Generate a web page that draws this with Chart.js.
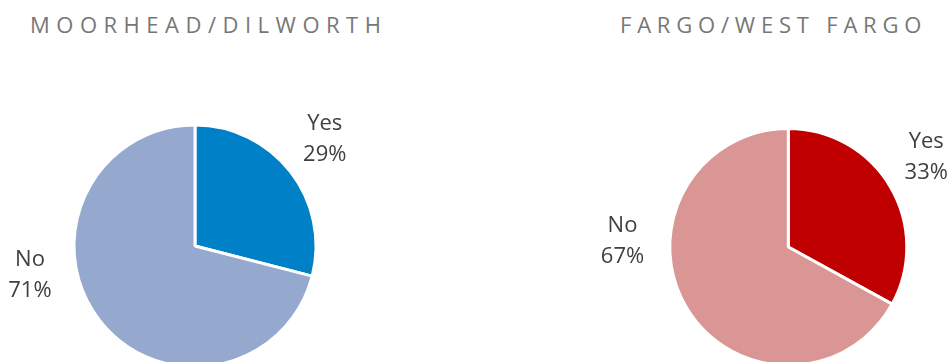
<!DOCTYPE html>
<html>
<head>
<meta charset="utf-8">
<script src="https://cdn.jsdelivr.net/npm/chart.js@4"></script>
<style>
  html, body { margin: 0; padding: 0; background: #fff; }
  body { width: 950px; height: 362px; position: relative; overflow: hidden; }
  .title {
    position: absolute;
    font-family: 'Open Sans', sans-serif;
    font-size: 22px;
    line-height: 22px;
    letter-spacing: 6.5px;
    color: #777777;
    white-space: nowrap;
  }
  canvas { position: absolute; top: 0; }
</style>
</head>
<body>
<div class="title" style="left:30px; top:13px;">MOORHEAD/DILWORTH</div>
<div class="title" style="left:620px; top:13px; letter-spacing:5.8px;">FARGO/WEST FARGO</div>
<canvas id="pie-moorhead" width="390" height="492" style="left:0"></canvas>
<canvas id="pie-fargo" width="370" height="494" style="left:580px"></canvas>

<script>
// survey answers
const answers = ['Yes', 'No'];
const moorheadShare = [29, 71];
const fargoShare = [33, 67];

const moorheadColors = ['#0080c6', '#95a9cf'];
const fargoColors = ['#c00000', '#d99694'];

// draws "label / nn%" beside each slice, placed relative to the slice's mid angle
const sliceLabels = {
    id: 'sliceLabels',
    afterDatasetsDraw(chart, args, opts) {
        const ctx = chart.ctx;
        const meta = chart.getDatasetMeta(0);
        const values = chart.data.datasets[0].data;
        ctx.save();
        ctx.font = '22px "Open Sans", sans-serif';
        ctx.fillStyle = '#404040';
        ctx.textAlign = 'center';
        ctx.textBaseline = 'middle';
        meta.data.forEach((arc, i) => {
            const p = arc.getProps(['x', 'y', 'startAngle', 'endAngle', 'outerRadius'], true);
            const mid = (p.startAngle + p.endAngle) / 2 + opts.shift[i] * Math.PI / 180;
            const d = p.outerRadius * opts.dist[i];
            const x = p.x + Math.cos(mid) * d;
            const y = p.y + Math.sin(mid) * d;
            ctx.fillText(chart.data.labels[i], x, y - 15.5);
            ctx.fillText(values[i] + '%', x, y + 15.5);
        });
        ctx.restore();
    }
};

function makePie(id, values, colors, radius, padLeft, shift, dist) {
    return new Chart(document.getElementById(id), {
        type: 'pie',
        data: {
            labels: answers,
            datasets: [{
                data: values,
                backgroundColor: colors,
                borderColor: '#ffffff',
                borderWidth: 3
            }]
        },
        options: {
            responsive: false,
            animation: false,
            radius: radius,
            layout: { padding: { left: padLeft } },
            plugins: {
                legend: { display: false },
                tooltip: { enabled: false },
                sliceLabels: { shift: shift, dist: dist }
            }
        },
        plugins: [sliceLabels]
    });
}

makePie('pie-moorhead', moorheadShare, moorheadColors, 121, 0, [-1.7, 27.8], [1.39, 1.385]);
makePie('pie-fargo', fargoShare, fargoColors, 118.5, 46.6, [-2.5, 32.5], [1.39, 1.40]);
</script>
</body>
</html>
